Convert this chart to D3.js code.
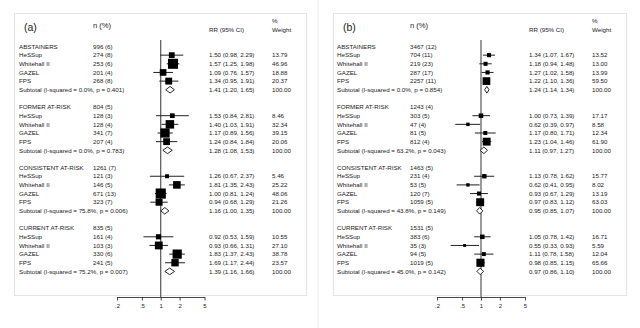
<!DOCTYPE html>
<html>
<head>
<meta charset="utf-8">
<script src="https://cdn.jsdelivr.net/npm/d3@7"></script>
<style>
  html, body { margin: 0; padding: 0; background: #fff; }
  svg { display: block; font-family: "Liberation Sans", Arial, sans-serif; }
</style>
</head>
<body>
<svg id="chart" width="640" height="328"></svg>
<script>
// ---- data ----
const groups = ["ABSTAINERS", "FORMER AT-RISK", "CONSISTENT AT-RISK", "CURRENT AT-RISK"];
const studies = ["HeSSup", "Whitehall II", "GAZEL", "FPS"];
const tickValues = [0.2, 0.5, 1, 2, 5];
const tickLabels = [".2", ".5", "1", "2", "5"];

// panel (a)
const aGroupN = ["996 (6)", "804 (5)", "1261 (7)", "835 (5)"];
const aStudyN = [
  ["274 (8)", "253 (6)", "201 (4)", "268 (8)"],
  ["128 (3)", "128 (4)", "341 (7)", "207 (4)"],
  ["121 (3)", "146 (5)", "671 (13)", "323 (7)"],
  ["161 (4)", "103 (3)", "330 (6)", "241 (5)"]
];
const aRR = [[1.50, 1.57, 1.09, 1.34], [1.53, 1.40, 1.17, 1.24], [1.26, 1.81, 1.00, 0.94], [0.92, 0.93, 1.83, 1.69]];
const aLo = [[0.98, 1.25, 0.76, 0.95], [0.84, 1.03, 0.89, 0.84], [0.67, 1.35, 0.81, 0.68], [0.53, 0.66, 1.37, 1.17]];
const aHi = [[2.29, 1.98, 1.57, 1.91], [2.81, 1.91, 1.56, 1.84], [2.37, 2.43, 1.24, 1.29], [1.59, 1.31, 2.43, 2.44]];
const aWeight = [[13.79, 46.96, 18.88, 20.37], [8.46, 32.34, 39.15, 20.06], [5.46, 25.22, 48.06, 21.26], [10.55, 27.10, 38.78, 23.57]];
const aSubRR = [1.41, 1.28, 1.16, 1.39];
const aSubLo = [1.20, 1.08, 1.00, 1.16];
const aSubHi = [1.65, 1.53, 1.35, 1.66];
const aI2 = [0.0, 0.0, 75.8, 75.2];
const aP = [0.401, 0.783, 0.006, 0.007];

// panel (b)
const bGroupN = ["3467 (12)", "1243 (4)", "1463 (5)", "1531 (5)"];
const bStudyN = [
  ["704 (11)", "219 (23)", "287 (17)", "2257 (11)"],
  ["303 (5)", "47 (4)", "81 (5)", "812 (4)"],
  ["231 (4)", "53 (5)", "120 (7)", "1059 (5)"],
  ["383 (6)", "35 (3)", "94 (5)", "1019 (5)"]
];
const bRR = [[1.34, 1.18, 1.27, 1.22], [1.00, 0.62, 1.17, 1.23], [1.13, 0.62, 0.93, 0.97], [1.05, 0.55, 1.11, 0.98]];
const bLo = [[1.07, 0.94, 1.02, 1.10], [0.73, 0.39, 0.80, 1.04], [0.78, 0.41, 0.67, 0.83], [0.78, 0.33, 0.78, 0.85]];
const bHi = [[1.67, 1.48, 1.58, 1.36], [1.39, 0.97, 1.71, 1.46], [1.62, 0.95, 1.29, 1.12], [1.42, 0.93, 1.58, 1.15]];
const bWeight = [[13.52, 13.00, 13.99, 59.50], [17.17, 8.58, 12.34, 61.90], [15.77, 8.02, 13.19, 63.03], [16.71, 5.59, 12.04, 65.66]];
const bSubRR = [1.24, 1.11, 0.95, 0.97];
const bSubLo = [1.14, 0.97, 0.85, 0.86];
const bSubHi = [1.34, 1.27, 1.07, 1.10];
const bI2 = [0.0, 63.2, 43.8, 45.0];
const bP = [0.854, 0.043, 0.149, 0.142];

// ---- drawing ----
const svg = d3.select("#chart");
const FS = 6.2;            // row font size
const ROW0 = 46.5, ROWH = 8.65;
const rowY = i => ROW0 + i * ROWH;
const fmt = v => v.toFixed(2);

// thin divider between the two panels
svg.append("line").attr("x1", 318).attr("x2", 318).attr("y1", 0).attr("y2", 328)
  .attr("stroke", "#e8e8e8").attr("stroke-width", 1);

function drawPanel(p) {
  const g = svg.append("g");
  const x = d3.scaleLog().domain([0.2, 5]).range([p.axisLeft, p.axisRight]);
  const size = d3.scaleSqrt().domain([0, 100]).range([0, p.boxMax]);

  // frame
  g.append("rect").attr("x", p.frameLeft + 0.5).attr("y", 13.5)
    .attr("width", p.frameRight - p.frameLeft).attr("height", 282)
    .attr("fill", "none").attr("stroke", "#e4e4e4").attr("stroke-width", 1);

  // headers
  g.append("text").attr("x", p.titleX).attr("y", 31).attr("font-size", 10.5)
    .attr("fill", "#222").text(p.title);
  g.append("text").attr("x", p.nX).attr("y", 28).attr("font-size", 7.6)
    .attr("fill", "#222").text("n (%)");
  g.append("text").attr("x", p.rrX).attr("y", 32.3).attr("font-size", FS)
    .attr("fill", "#222").text("RR (95% CI)");
  g.append("text").attr("x", p.wX).attr("y", 23.3).attr("font-size", FS)
    .attr("fill", "#222").text("%");
  g.append("text").attr("x", p.wX).attr("y", 32.3).attr("font-size", FS)
    .attr("fill", "#222").text("Weight");

  // null line at RR = 1
  g.append("line").attr("x1", x(1)).attr("x2", x(1)).attr("y1", 40).attr("y2", 297)
    .attr("stroke", p.nullColor).attr("stroke-width", p.nullWidth);

  const txt = (xx, yy, s) => g.append("text").attr("x", xx).attr("y", yy + 2.2)
    .attr("font-size", FS).attr("fill", "#222").text(s);

  groups.forEach((grp, gi) => {
    const base = gi * 7;
    txt(p.labelX, rowY(base), grp);
    txt(p.nX, rowY(base), p.groupN[gi]);
    studies.forEach((st, si) => {
      const y = rowY(base + 1 + si);
      txt(p.labelX, y, st);
      txt(p.nX, y, p.studyN[gi][si]);
      const rr = p.rr[gi][si], lo = p.lo[gi][si], hi = p.hi[gi][si], w = p.w[gi][si];
      txt(p.rrX, y, `${fmt(rr)} (${fmt(lo)}, ${fmt(hi)})`);
      txt(p.wX, y, fmt(w));
      g.append("line").attr("x1", x(lo)).attr("x2", x(hi)).attr("y1", y).attr("y2", y)
        .attr("stroke", "#222").attr("stroke-width", 1);
      const s = size(w) + 0.8;
      g.append("rect").attr("x", x(rr) - s / 2).attr("y", y - s / 2)
        .attr("width", s).attr("height", s).attr("fill", "#000");
    });
    const ys = rowY(base + 5);
    txt(p.labelX, ys, `Subtotal  (I-squared = ${p.i2[gi].toFixed(1)}%, p = ${p.p[gi].toFixed(3)})`);
    txt(p.rrX, ys, `${fmt(p.subRR[gi])} (${fmt(p.subLo[gi])}, ${fmt(p.subHi[gi])})`);
    txt(p.wX, ys, "100.00");
    const dh = 3.3;
    const pts = [[x(p.subLo[gi]), ys], [x(p.subRR[gi]), ys - dh], [x(p.subHi[gi]), ys], [x(p.subRR[gi]), ys + dh]];
    g.append("path").attr("d", d3.line()(pts) + "Z")
      .attr("fill", "#fff").attr("stroke", "#111").attr("stroke-width", 0.9);
  });

  // log axis
  const axis = d3.axisBottom(x).tickValues(tickValues)
    .tickFormat((d, i) => tickLabels[i]).tickSize(3.5).tickSizeOuter(0).tickPadding(3);
  const ax = g.append("g").attr("transform", "translate(0,297)").call(axis);
  ax.selectAll("path, line").attr("stroke", "#333").attr("stroke-width", 0.9);
  ax.selectAll("text").attr("font-size", 6).attr("fill", "#222")
    .attr("font-family", "Liberation Sans, Arial, sans-serif");
}

drawPanel({
  title: "(a)", frameLeft: 14, frameRight: 306, titleX: 24, labelX: 19, nX: 93, rrX: 209, wX: 272,
  axisLeft: 117, axisRight: 204.5, boxMax: 13.5, nullColor: "#333", nullWidth: 1,
  groupN: aGroupN, studyN: aStudyN, rr: aRR, lo: aLo, hi: aHi, w: aWeight,
  subRR: aSubRR, subLo: aSubLo, subHi: aSubHi, i2: aI2, p: aP
});
drawPanel({
  title: "(b)", frameLeft: 333, frameRight: 626, titleX: 343, labelX: 337, nX: 410, rrX: 529, wX: 592,
  axisLeft: 437, axisRight: 525, boxMax: 9, nullColor: "#999", nullWidth: 2,
  groupN: bGroupN, studyN: bStudyN, rr: bRR, lo: bLo, hi: bHi, w: bWeight,
  subRR: bSubRR, subLo: bSubLo, subHi: bSubHi, i2: bI2, p: bP
});
</script>
</body>
</html>
